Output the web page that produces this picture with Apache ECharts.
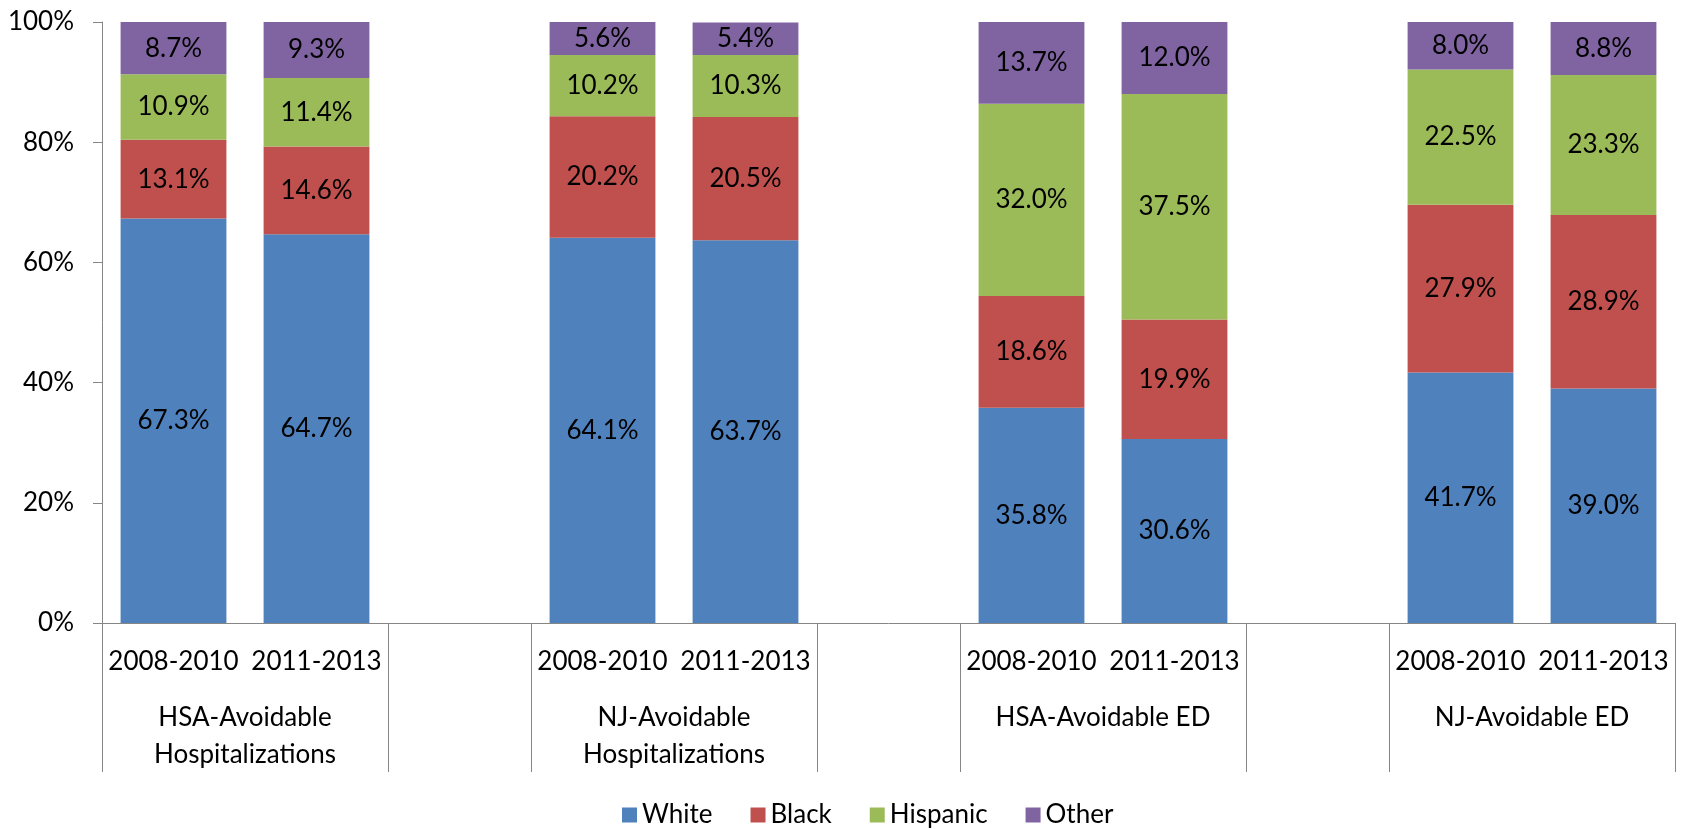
<!DOCTYPE html>
<html>
<head>
<meta charset="utf-8">
<script src="https://cdn.jsdelivr.net/npm/echarts@6/dist/echarts.min.js"></script>
<style>
  html, body { margin: 0; padding: 0; background: #fff; }
  #chart { width: 1681px; height: 829px; }
</style>
</head>
<body>
<div id="chart"></div>
<script>
// periods shown under each bar, groups shown on the second label row
const periods = ['2008-2010', '2011-2013'];
const groups = ['HSA-Avoidable\nHospitalizations', 'NJ-Avoidable\nHospitalizations', 'HSA-Avoidable ED', 'NJ-Avoidable ED'];

// values per group, in period order (percent)
const white    = [67.3, 64.7, 64.1, 63.7, 35.8, 30.6, 41.7, 39.0];
const black    = [13.1, 14.6, 20.2, 20.5, 18.6, 19.9, 27.9, 28.9];
const hispanic = [10.9, 11.4, 10.2, 10.3, 32.0, 37.5, 22.5, 23.3];
const other    = [8.7, 9.3, 5.6, 5.4, 13.7, 12.0, 8.0, 8.8];

const yTicks = [0, 20, 40, 60, 80, 100];

const FONT = 'Lato';
const AXIS_GREY = '#868686';

// lay out categories: each group of two periods followed by one empty slot
const categories = [];
const groupCenters = [];
const groupEdges = [0];
groups.forEach((g, gi) => {
  const start = categories.length;
  periods.forEach(p => categories.push(p));
  groupCenters.push(start + periods.length / 2);
  groupEdges.push(categories.length);
  if (gi < groups.length - 1) {
    categories.push('');
    groupEdges.push(categories.length);
  }
});

function spread(values) {
  const out = [];
  let k = 0;
  categories.forEach(c => {
    out.push(c === '' ? '-' : values[k++]);
  });
  return out;
}

const seriesDefs = [
  { name: 'White', data: white, color: '#4F81BD' },
  { name: 'Black', data: black, color: '#C0504D' },
  { name: 'Hispanic', data: hispanic, color: '#9BBB59' },
  { name: 'Other', data: other, color: '#8064A2' }
];

const chart = echarts.init(document.getElementById('chart'));

const option = {
  backgroundColor: '#ffffff',
  animation: false,
  textStyle: { fontFamily: FONT },
  grid: { left: 102, right: 6, top: 22, bottom: 206 },
  legend: {
    left: 617,
    top: 797,
    itemWidth: 15,
    itemHeight: 15,
    itemGap: 38,
    icon: 'rect',
    textStyle: { fontFamily: FONT, fontSize: 26, color: '#000' },
    data: seriesDefs.map(s => s.name)
  },
  xAxis: [
    {
      type: 'category',
      data: categories,
      axisLine: { lineStyle: { color: AXIS_GREY, width: 1 } },
      axisTick: { show: false },
      axisLabel: {
        interval: 0,
        margin: 21,
        fontFamily: FONT,
        fontSize: 26,
        lineHeight: 36,
        color: '#000'
      }
    },
    {
      type: 'value',
      min: 0,
      max: categories.length,
      position: 'bottom',
      axisLine: { show: false },
      splitLine: { show: false },
      axisTick: {
        show: true,
        customValues: groupEdges,
        length: 149,
        lineStyle: { color: AXIS_GREY, width: 1 }
      },
      axisLabel: {
        customValues: groupCenters,
        margin: 76,
        fontFamily: FONT,
        fontSize: 26,
        lineHeight: 37,
        color: '#000',
        verticalAlign: 'top',
        formatter: v => {
          const i = groupCenters.indexOf(v);
          return i >= 0 ? groups[i] : '';
        }
      }
    }
  ],
  yAxis: {
    type: 'value',
    min: yTicks[0],
    max: yTicks[yTicks.length - 1],
    interval: yTicks[1] - yTicks[0],
    splitLine: { show: false },
    axisLine: { show: true, lineStyle: { color: AXIS_GREY, width: 1 } },
    axisTick: { show: true, inside: false, length: 9, lineStyle: { color: AXIS_GREY } },
    axisLabel: {
      margin: 28,
      fontFamily: FONT,
      fontSize: 26,
      color: '#000',
      formatter: '{value}%'
    }
  },
  series: seriesDefs.map(s => ({
    name: s.name,
    type: 'bar',
    stack: 'total',
    xAxisIndex: 0,
    barCategoryGap: '26%',
    data: spread(s.data),
    itemStyle: { color: s.color },
    label: {
      show: true,
      position: 'inside',
      fontFamily: FONT,
      fontSize: 26,
      color: '#000',
      formatter: p => Number(p.value).toFixed(1) + '%'
    }
  }))
};

chart.setOption(option);
</script>
</body>
</html>
